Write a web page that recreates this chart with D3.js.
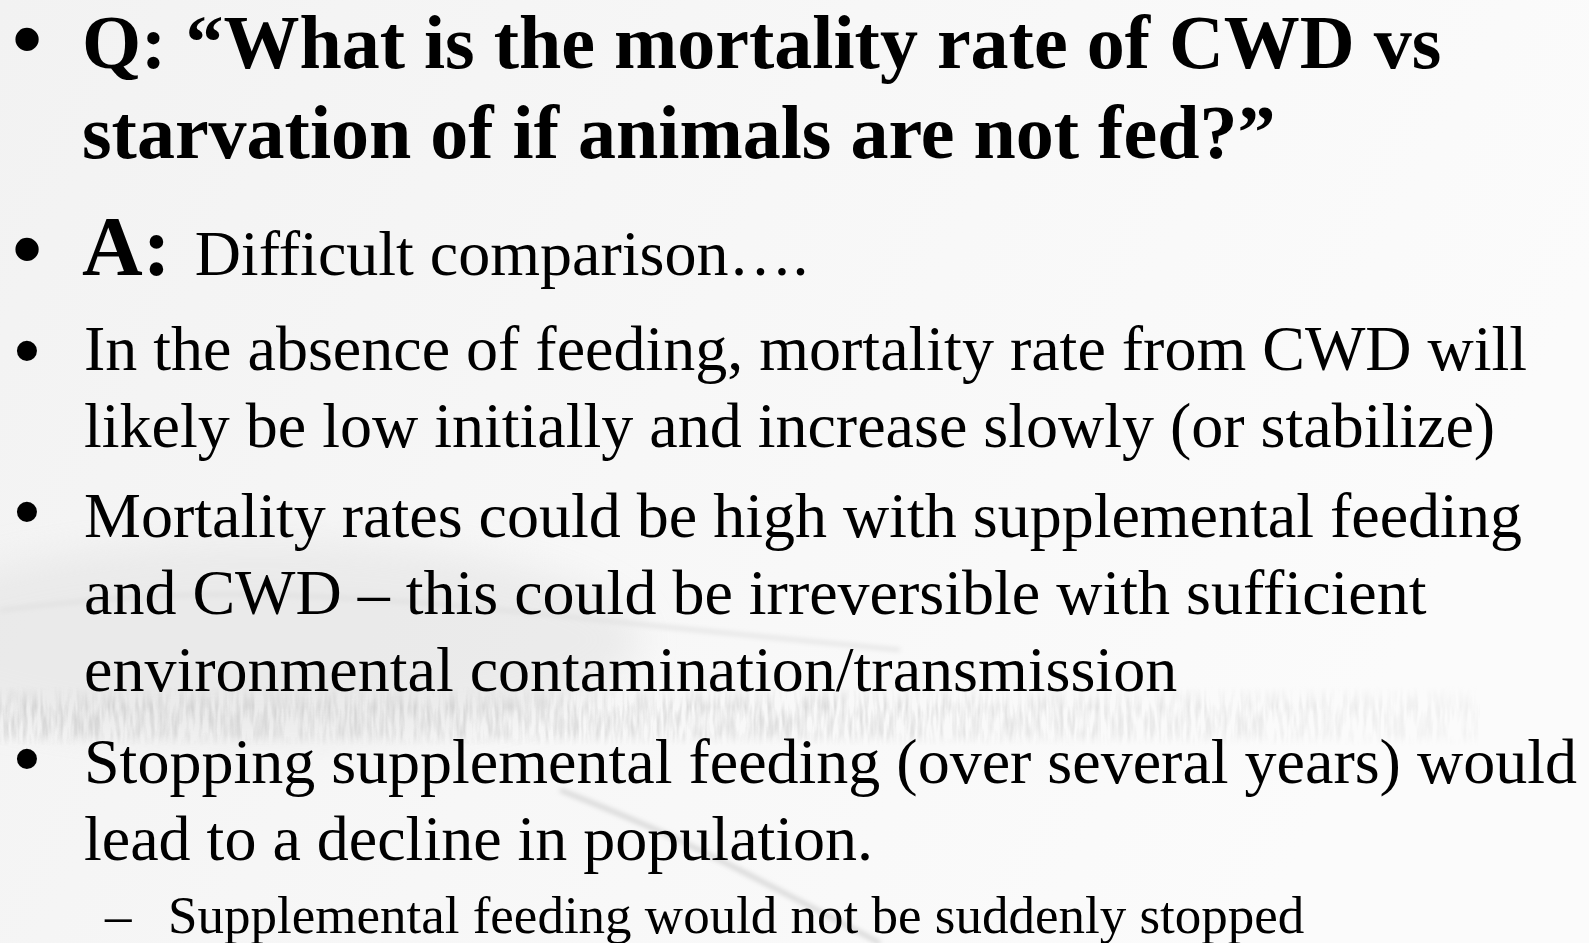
<!DOCTYPE html>
<html>
<head>
<meta charset="utf-8">
<script src="https://cdn.jsdelivr.net/npm/d3@7"></script>
<style>
  html, body { margin: 0; padding: 0; background: #f7f7f7; overflow: hidden; }
  svg { display: block; }
</style>
</head>
<body>
<div id="slide"></div>
<script>
// Slide text
const questionLines = [
  "Q: \u201CWhat is the mortality rate of CWD vs",
  "starvation of if animals are not fed?\u201D"
];
const answerLabel = "A:";
const answerText = "Difficult comparison\u2026.";
const bulletPoints = [
  ["In the absence of feeding, mortality rate from CWD will",
   "likely be low initially and increase slowly (or stabilize)"],
  ["Mortality rates could be high with supplemental feeding",
   "and CWD \u2013 this could be irreversible with sufficient",
   "environmental contamination/transmission"],
  ["Stopping supplemental feeding (over several years) would",
   "lead to a decline in population."]
];
const subPoints = ["Supplemental feeding would not be suddenly stopped"];

// Layout
const width = 1589;
const height = 943;
const serif = "'Liberation Serif', 'Times New Roman', serif";
const textX = 82;
const bulletX = 27;

d3.select('#slide').selectAll('*').remove();

const svg = d3.select('#slide')
  .append('svg')
  .attr('width', width)
  .attr('height', height);

const defs = svg.append('defs');

// Background: washed out photo look
const bg = defs.append('linearGradient').attr('id', 'bg').attr('x1', 0).attr('x2', 1).attr('y1', 0).attr('y2', 0.3);
bg.append('stop').attr('offset', 0).attr('stop-color', '#f2f2f2');
bg.append('stop').attr('offset', 0.5).attr('stop-color', '#f7f7f7');
bg.append('stop').attr('offset', 1).attr('stop-color', '#fbfbfb');

const herd = defs.append('filter').attr('id', 'herd')
  .attr('x', 0).attr('y', 0).attr('width', 1).attr('height', 1);
herd.append('feTurbulence').attr('type', 'fractalNoise')
  .attr('baseFrequency', '0.22 0.035').attr('numOctaves', 2).attr('seed', 7).attr('result', 'noise');
herd.append('feColorMatrix').attr('in', 'noise').attr('type', 'matrix')
  .attr('values', '0 0 0 0 0.62  0 0 0 0 0.62  0 0 0 0 0.62  0 0 0 -2.4 1.55')
  .attr('result', 'grain');
herd.append('feComposite').attr('in', 'grain').attr('in2', 'SourceGraphic').attr('operator', 'in');

const fade = defs.append('linearGradient').attr('id', 'fade').attr('x1', 0).attr('x2', 0).attr('y1', 0).attr('y2', 1);
fade.append('stop').attr('offset', 0).attr('stop-color', '#fff').attr('stop-opacity', 0);
fade.append('stop').attr('offset', 0.35).attr('stop-color', '#fff').attr('stop-opacity', 0.9);
fade.append('stop').attr('offset', 0.8).attr('stop-color', '#fff').attr('stop-opacity', 0.7);
fade.append('stop').attr('offset', 1).attr('stop-color', '#fff').attr('stop-opacity', 0);

const fadeX = defs.append('linearGradient').attr('id', 'fadeX').attr('x1', 0).attr('x2', 1);
fadeX.append('stop').attr('offset', 0).attr('stop-color', '#fff').attr('stop-opacity', 0.9);
fadeX.append('stop').attr('offset', 0.55).attr('stop-color', '#fff').attr('stop-opacity', 0.75);
fadeX.append('stop').attr('offset', 1).attr('stop-color', '#fff').attr('stop-opacity', 0.25);

const blur = defs.append('filter').attr('id', 'blur');
blur.append('feGaussianBlur').attr('stdDeviation', 18);
const soft = defs.append('filter').attr('id', 'soft');
soft.append('feGaussianBlur').attr('stdDeviation', 2.5);

svg.append('rect')
  .attr('width', width)
  .attr('height', height)
  .attr('fill', 'url(#bg)');

// grey haze on the left behind the herd
svg.append('ellipse')
  .attr('cx', 260).attr('cy', 640).attr('rx', 380).attr('ry', 100)
  .attr('fill', '#e6e6e6').attr('opacity', 0.7)
  .attr('filter', 'url(#blur)');

// snow track curves
const track = d3.line().curve(d3.curveBasis);
svg.append('path')
  .attr('d', track([[0, 610], [180, 590], [420, 600], [640, 625], [900, 650]]))
  .attr('fill', 'none').attr('stroke', '#dedede').attr('stroke-width', 3)
  .attr('filter', 'url(#soft)');
svg.append('path')
  .attr('d', track([[560, 790], [660, 830], [760, 880], [880, 943]]))
  .attr('fill', 'none').attr('stroke', '#d2d2d2').attr('stroke-width', 4)
  .attr('filter', 'url(#soft)');

// herd band
const mask = defs.append('mask').attr('id', 'herdMask');
mask.append('rect').attr('x', 0).attr('y', 686).attr('width', 1480).attr('height', 60).attr('fill', 'url(#fade)');
const mask2 = defs.append('mask').attr('id', 'herdMaskX');
mask2.append('rect').attr('x', 0).attr('y', 680).attr('width', 1480).attr('height', 70).attr('fill', 'url(#fadeX)');

svg.append('g').attr('mask', 'url(#herdMaskX)')
  .append('rect')
  .attr('x', 0).attr('y', 686).attr('width', 1480).attr('height', 60)
  .attr('fill', '#fff')
  .attr('mask', 'url(#herdMask)')
  .attr('filter', 'url(#herd)');

// Text flow
const bulletGlyph = '\u2022';

// centreY is where the dot's middle should sit
function bullet(centreY, size) {
  svg.append('text')
    .attr('x', bulletX)
    .attr('y', centreY + size * 0.33)
    .attr('text-anchor', 'middle')
    .attr('font-family', "'Liberation Sans', Arial, sans-serif")
    .attr('font-size', size)
    .attr('fill', '#000')
    .text(bulletGlyph);
}

// Question
const qSize = 76;
const qBase = [68, 158];
bullet(40, 86);
svg.selectAll('text.q')
  .data(questionLines)
  .enter().append('text')
  .attr('class', 'q')
  .attr('x', textX)
  .attr('y', (d, i) => qBase[i])
  .attr('font-family', serif)
  .attr('font-weight', 'bold')
  .attr('font-size', qSize)
  .attr('fill', '#000')
  .text(d => d);

// Answer
const aBase = 275;
bullet(250, 86);
const aText = svg.append('text')
  .attr('x', textX)
  .attr('y', aBase)
  .attr('font-family', serif)
  .attr('fill', '#000');
aText.append('tspan')
  .attr('font-weight', 'bold')
  .attr('font-size', 84)
  .text(answerLabel);
aText.append('tspan')
  .attr('font-size', 64)
  .attr('dx', 24)
  .text(answerText);

// Body bullets
const bodySize = 64;
const bodyLead = 77;
const paraStarts = [370, 537, 783];
const bulletCentres = [352, 513, 760];

bulletPoints.forEach((lines, p) => {
  bullet(bulletCentres[p], 74);
  svg.append('g')
    .selectAll('text')
    .data(lines)
    .enter().append('text')
    .attr('x', textX + 2)
    .attr('y', (d, i) => paraStarts[p] + i * bodyLead)
    .attr('font-family', serif)
    .attr('font-size', bodySize)
    .attr('fill', '#000')
    .text(d => d);
});

// Sub bullet
const subBase = 933;
const subSize = 53;
subPoints.forEach((d, i) => {
  svg.append('text')
    .attr('x', 105)
    .attr('y', subBase + i * 66)
    .attr('font-family', serif)
    .attr('font-size', subSize)
    .attr('fill', '#000')
    .text('\u2013');
  svg.append('text')
    .attr('class', 'sub')
    .attr('x', 168)
    .attr('y', subBase + i * 66)
    .attr('font-family', serif)
    .attr('font-size', subSize)
    .attr('fill', '#000')
    .text(d);
});
</script>
</body>
</html>
